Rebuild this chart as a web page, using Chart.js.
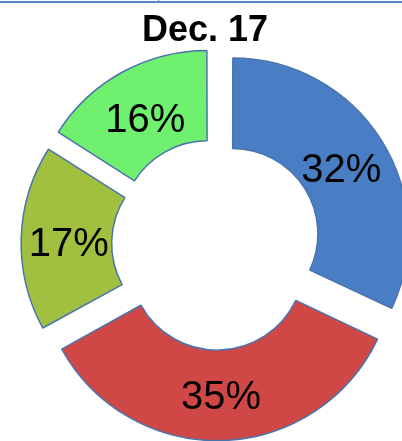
<!DOCTYPE html>
<html>
<head>
<meta charset="utf-8">
<script src="https://cdn.jsdelivr.net/npm/chart.js@4"></script>
<style>
  body { margin: 0; background: #fff; }
  #wrap { position: relative; width: 402px; height: 441px; overflow: hidden; }
  #topline { position: absolute; left: 0; top: 1px; width: 402px; height: 2px; background: #5b86c4; }
  #tick { position: absolute; left: 158px; top: 0; width: 1px; height: 2px; background: #5b86c4; }
  #title { position: absolute; left: 105px; top: 8px; width: 200px; text-align: center;
           font: bold 36px "Liberation Sans", Arial, sans-serif; color: #000; }
  #holder { position: absolute; left: 0; top: 0; width: 402px; height: 441px; }
</style>
</head>
<body>
<div id="wrap">
  <div id="holder"><canvas id="myChart"></canvas></div>
  <div id="topline"></div><div id="tick"></div>
  <div id="title">Dec. 17</div>
</div>
<script>
// slices, clockwise from 12 o'clock
var labels = ["A", "B", "C", "D"];
var shares = [32, 35, 17, 16];
var sliceColors = ["#4a7ec4", "#d04845", "#a2c040", "#6ff06f"];

// draws the % text in the middle of each (exploded) slice
var sliceLabels = {
	id: 'sliceLabels',
	afterDatasetsDraw: function(chart) {
		var ctx = chart.ctx;
		var meta = chart.getDatasetMeta(0);
		ctx.save();
		ctx.font = '40px "Liberation Sans", Arial, sans-serif';
		ctx.fillStyle = '#000';
		ctx.textAlign = 'center';
		ctx.textBaseline = 'middle';
		meta.data.forEach(function(arc, i) {
			var mid = (arc.startAngle + arc.endAngle) / 2;
			var r = (arc.innerRadius + arc.outerRadius) / 2 + (arc.options.offset || 0) / 4;
			// +6: digits sit a bit low in the original
			ctx.fillText(shares[i] + '%', arc.x + Math.cos(mid) * r, arc.y + Math.sin(mid) * r + 6);
		});
		ctx.restore();
	}
};

var ctx = document.getElementById("myChart").getContext('2d');
var myChart = new Chart(ctx, {
	type: 'doughnut',
	data: {
		labels: labels,
		datasets: [{
			data: shares,
			backgroundColor: sliceColors,
			borderColor: "#4b74ae",
			borderWidth: 1.5,
			offset: 76
		}]
	},
	options: {
		responsive: true,
		maintainAspectRatio: false,
		animation: false,
		radius: 174,
		cutout: '48%',
		layout: { padding: { left: 31, right: 0, top: 47, bottom: 0 } },
		plugins: {
			legend: { display: false },
			tooltip: { enabled: false },
			title: { display: false }
		}
	},
	plugins: [sliceLabels]
});
</script>
</body>
</html>
